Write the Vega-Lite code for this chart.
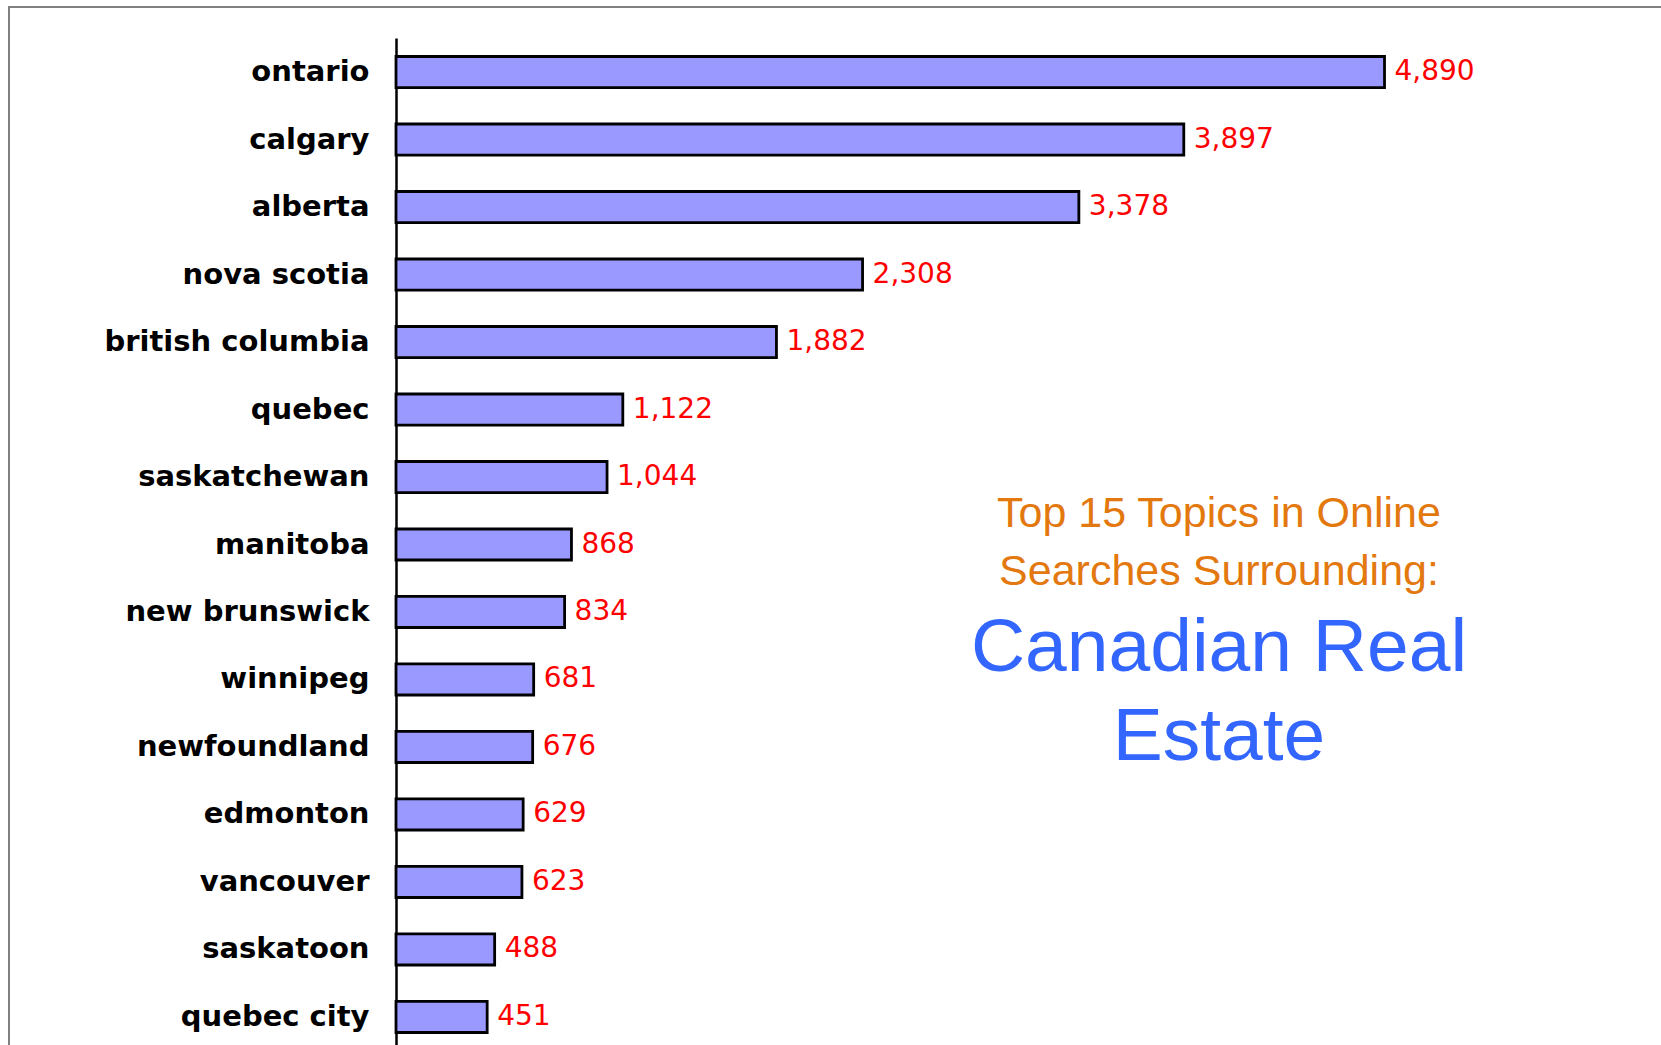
{
  "$schema": "https://vega.github.io/schema/vega-lite/v6.json",
  "autosize": {"type": "none"},
  "padding": {"left": 9, "top": 7, "right": -3, "bottom": 0},
  "width": 1655,
  "height": 1040,
  "background": "white",
  "title": {
    "text": ["Top 15 Topics in Online", "Searches Surrounding:"],
    "subtitle": ["Canadian Real", "Estate"],
    "orient": "top",
    "anchor": "start",
    "frame": "group",
    "align": "center",
    "dx": 1210,
    "offset": -768,
    "font": "Liberation Sans",
    "fontSize": 43,
    "fontWeight": "normal",
    "color": "#E3780F",
    "lineHeight": 58,
    "subtitleFont": "Liberation Sans",
    "subtitleFontSize": 75,
    "subtitleFontWeight": "normal",
    "subtitleColor": "#3366FF",
    "subtitleLineHeight": 89,
    "subtitlePadding": 18
  },
  "data": {
    "values": [
      {"topic": "ontario", "searches": 4890},
      {"topic": "calgary", "searches": 3897},
      {"topic": "alberta", "searches": 3378},
      {"topic": "nova scotia", "searches": 2308},
      {"topic": "british columbia", "searches": 1882},
      {"topic": "quebec", "searches": 1122},
      {"topic": "saskatchewan", "searches": 1044},
      {"topic": "manitoba", "searches": 868},
      {"topic": "new brunswick", "searches": 834},
      {"topic": "winnipeg", "searches": 681},
      {"topic": "newfoundland", "searches": 676},
      {"topic": "edmonton", "searches": 629},
      {"topic": "vancouver", "searches": 623},
      {"topic": "saskatoon", "searches": 488},
      {"topic": "quebec city", "searches": 451}
    ]
  },
  "encoding": {
    "y": {
      "field": "topic",
      "type": "nominal",
      "sort": null,
      "scale": {"range": [31, 1044], "paddingInner": 0.54, "paddingOuter": 0.274},
      "axis": {
        "title": null,
        "offset": -387,
        "domain": true,
        "domainColor": "#000000",
        "domainWidth": 2.5,
        "ticks": false,
        "tickSize": 0,
        "grid": false,
        "labelPadding": 27,
        "labelFont": "DejaVu Sans",
        "labelFontWeight": "bold",
        "labelFontSize": 29,
        "labelColor": "#000000",
        "labelLimit": 400
      }
    },
    "x": {
      "field": "searches",
      "type": "quantitative",
      "scale": {"domain": [0, 5000], "range": [387, 1397.75], "nice": false, "zero": true},
      "axis": null
    }
  },
  "layer": [
    {
      "mark": {"type": "bar", "fill": "#9999FF", "stroke": "#000000", "strokeWidth": 2.8}
    },
    {
      "mark": {
        "type": "text",
        "align": "left",
        "baseline": "middle",
        "dx": 10,
        "dy": 0,
        "font": "DejaVu Sans",
        "fontSize": 28,
        "fill": "#FF0000"
      },
      "encoding": {
        "text": {"field": "searches", "type": "quantitative", "format": ",d"}
      }
    }
  ],
  "config": {
    "view": {"stroke": "#808080", "strokeWidth": 2}
  }
}
